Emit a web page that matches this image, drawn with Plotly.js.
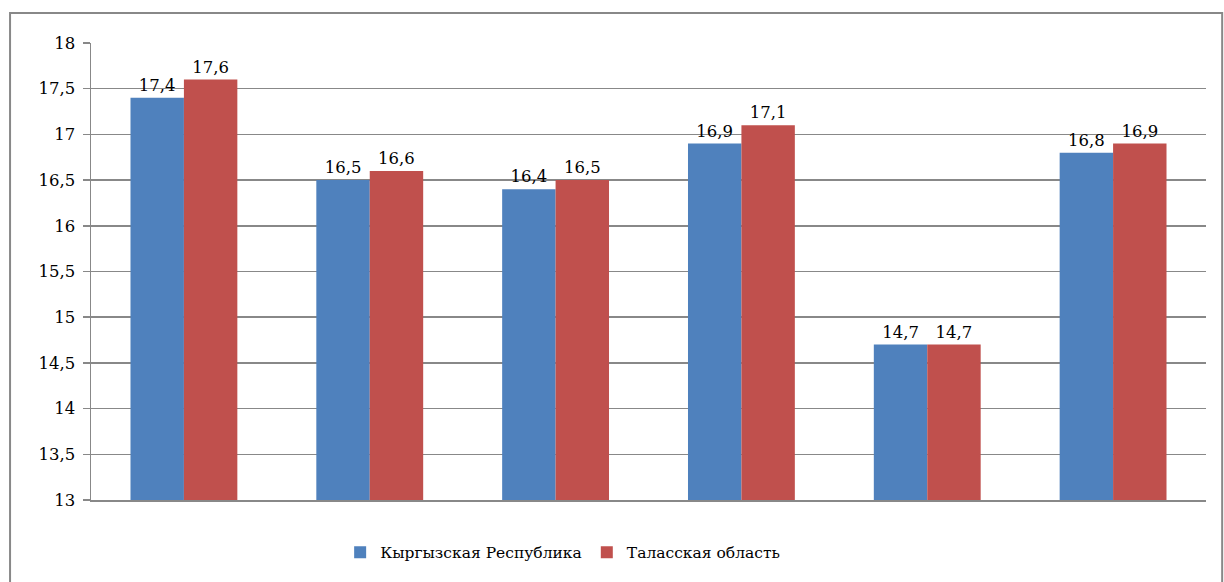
<!DOCTYPE html>
<html>
<head>
<meta charset="utf-8">
<script src="https://cdn.plot.ly/plotly-3.0.1.min.js"></script>
<style>
html,body{margin:0;padding:0;background:#fff;}
#chart{width:1224px;height:582px;}
</style>
</head>
<body>
<div id="chart"></div>
<script>
const categories = ['1', '2', '3', '4', '5', '6'];
const seriesNames = ['Кыргызская Республика', 'Таласская область'];
const kyrgyz = [17.4, 16.5, 16.4, 16.9, 14.7, 16.8];
const talas = [17.6, 16.6, 16.5, 17.1, 14.7, 16.9];
const yTicks = [13, 13.5, 14, 14.5, 15, 15.5, 16, 16.5, 17, 17.5, 18];

const FAMILY = 'DejaVu Serif';
function mkFont(size) { return {family: FAMILY, size: size, color: '#000'}; }

const traces = [
  {type: 'bar', name: seriesNames[0], x: categories, y: kyrgyz,
   marker: {color: '#4F81BD'}, texttemplate: '%{y:.1f}', textposition: 'outside',
   textfont: mkFont(16.5), cliponaxis: false, hoverinfo: 'none'},
  {type: 'bar', name: seriesNames[1], x: categories, y: talas,
   marker: {color: '#C0504D'}, texttemplate: '%{y:.1f}', textposition: 'outside',
   textfont: mkFont(16.5), cliponaxis: false, hoverinfo: 'none'}
];

const layout = {
  width: 1224, height: 582,
  margin: {l: 91, r: 18, t: 43, b: 80},
  paper_bgcolor: '#fff', plot_bgcolor: '#fff',
  separators: ', ',
  font: mkFont(16.5),
  barmode: 'group',
  bargap: 0.425,
  bargroupgap: 0,
  showlegend: true,
  legend: {orientation: 'h', x: 0.423, xanchor: 'center', y: -0.115, yanchor: 'middle',
           font: mkFont(15.5), itemwidth: 30, traceorder: 'normal'},
  xaxis: {showticklabels: false, ticks: '', showgrid: false, showline: true,
          linecolor: '#888', linewidth: 1.5, fixedrange: true},
  yaxis: {range: [13, 18], tickvals: yTicks, ticks: 'outside', ticklen: 7,
          tickcolor: '#888', tickwidth: 1.5, showgrid: true, gridcolor: '#888',
          gridwidth: 1.5, showline: true, linecolor: '#888', linewidth: 1.5,
          tickfont: mkFont(16.5), zeroline: false, fixedrange: true, ticklabelstandoff: 4},
  shapes: [{type: 'rect', xref: 'paper', yref: 'paper',
            x0: -0.0726, x1: 1.0145, y0: -0.2, y1: 1.0654,
            line: {color: '#888', width: 2}, fillcolor: 'rgba(0,0,0,0)', layer: 'below'}]
};

Plotly.newPlot('chart', traces, layout, {displayModeBar: false, staticPlot: true});
</script>
</body>
</html>
